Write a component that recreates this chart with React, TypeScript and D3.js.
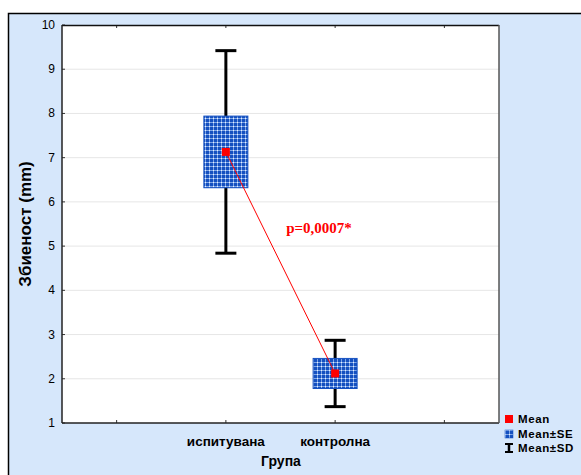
import React from 'react';
import { scaleLinear } from 'd3';

const groups = ['испитувана', 'контролна'];
const groupPos = [1.5, 2.5];
const means = [7.13, 2.12];
const ses = [0.81, 0.34];
const sds = [2.29, 0.75];
const yTicks = [1, 2, 3, 4, 5, 6, 7, 8, 9, 10];
const xTicks = [0.5, 1.5, 2.5, 3.5];
const legendItems = ['Mean', 'Mean±SE', 'Mean±SD'];
const pLabel = 'p=0,0007*';

const width = 581;
const height = 475;
const plot = { left: 62, top: 25, right: 499, bottom: 423 };

export default function App() {
  const x = scaleLinear().domain([0, 4]).range([plot.left, plot.right]);
  const y = scaleLinear().domain([1, 10]).range([plot.bottom, plot.top]);
  const boxW = 44;
  const capW = 21;

  return (
    <svg
      width={width}
      height={height}
      style={{ position: 'absolute', left: 0, top: 0 }}
      fontFamily="Arial, 'Liberation Sans', sans-serif"
    >
      <defs>
        <pattern id="grid" width="4" height="4" patternUnits="userSpaceOnUse">
          <rect width="4" height="4" fill="#1550c0" />
          <rect x="1" y="0" width="1" height="4" fill="#7fa6e6" />
          <rect x="0" y="2" width="4" height="1" fill="#7fa6e6" />
          <rect x="1" y="2" width="1" height="1" fill="#e8f0ff" />
        </pattern>
      </defs>
      <rect x={8.5} y={13.5} width={600} height={500} fill="#d6e7fb" stroke="#000" strokeWidth={1.5} />
      <rect x={plot.left} y={plot.top} width={plot.right - plot.left} height={plot.bottom - plot.top} fill="#fff" />
      {yTicks.map(t => (
        <g key={t}>
          {t > 1 && t < 10 && (
            <line x1={plot.left} x2={plot.right} y1={y(t)} y2={y(t)} stroke="#e6e6e6" strokeWidth={1} />
          )}
          <line x1={plot.left} x2={plot.left + 3} y1={y(t)} y2={y(t)} stroke="#333" />
          <text x={55} y={y(t) + 4} textAnchor="end" fontSize={12}>{t}</text>
        </g>
      ))}
      {xTicks.map(t => (
        <g key={t}>
          <line x1={x(t)} x2={x(t)} y1={plot.bottom} y2={plot.bottom - 3} stroke="#333" />
          <line x1={x(t)} x2={x(t)} y1={plot.top} y2={plot.top + 3} stroke="#333" />
        </g>
      ))}
      <line x1={plot.left} x2={plot.right} y1={plot.top + 0.5} y2={plot.top + 0.5} stroke="#111" strokeWidth={1.5} />
      <line x1={plot.left} x2={plot.right} y1={plot.bottom} y2={plot.bottom} stroke="#222" strokeWidth={1.5} />
      <line x1={plot.left} x2={plot.left} y1={plot.top} y2={plot.bottom} stroke="#222" strokeWidth={1.5} />
      <line x1={plot.right} x2={plot.right} y1={plot.top} y2={plot.bottom} stroke="#555" strokeWidth={1.5} />

      {groups.map((g, i) => {
        const cx = x(groupPos[i]);
        const top = y(means[i] + sds[i]);
        const bot = y(means[i] - sds[i]);
        return (
          <g key={g}>
            <line x1={cx} x2={cx} y1={top} y2={bot} stroke="#000" strokeWidth={3} />
            <line x1={cx - capW / 2} x2={cx + capW / 2} y1={top} y2={top} stroke="#000" strokeWidth={3} />
            <line x1={cx - capW / 2} x2={cx + capW / 2} y1={bot} y2={bot} stroke="#000" strokeWidth={3} />
            <rect
              x={cx - boxW / 2}
              y={y(means[i] + ses[i])}
              width={boxW}
              height={y(means[i] - ses[i]) - y(means[i] + ses[i])}
              fill="url(#grid)"
              stroke="#1550c0"
            />
          </g>
        );
      })}
      <line
        x1={x(groupPos[0])}
        y1={y(means[0])}
        x2={x(groupPos[1])}
        y2={y(means[1])}
        stroke="#ff0000"
        strokeWidth={1}
      />
      {groups.map((g, i) => (
        <rect key={g} x={x(groupPos[i]) - 4} y={y(means[i]) - 4} width={8} height={8} fill="#ff0000" />
      ))}
      <text x={319} y={233} textAnchor="middle" fill="#ff0000" fontWeight="bold" fontSize={15}
        fontFamily="'Liberation Serif', 'Times New Roman', serif">{pLabel}</text>

      {groups.map((g, i) => (
        <text key={g} x={x(groupPos[i])} y={446} textAnchor="middle" fontWeight="bold" fontSize={13.5}>{g}</text>
      ))}
      <text x={281} y={466} textAnchor="middle" fontWeight="bold" fontSize={14}>Група</text>
      <text transform={`translate(31,${(plot.top + plot.bottom) / 2}) rotate(-90)`} textAnchor="middle"
        fontWeight="bold" fontSize={17}>Збиеност (mm)</text>

      <g>
        <rect x={505} y={415} width={8} height={8} fill="#ff0000" />
        <rect x={505} y={430} width={8} height={8} fill="url(#grid)" stroke="#1550c0" strokeWidth={0.5} />
        <line x1={509} x2={509} y1={444} y2={452} stroke="#000" strokeWidth={2.5} />
        <line x1={505} x2={513} y1={444} y2={444} stroke="#000" strokeWidth={2} />
        <line x1={505} x2={513} y1={452} y2={452} stroke="#000" strokeWidth={2} />
        {legendItems.map((l, i) => (
          <text key={l} x={518} y={423 + i * 14.5} fontWeight="bold" fontSize={11.5} letterSpacing={0.6}>{l}</text>
        ))}
      </g>
    </svg>
  );
}
